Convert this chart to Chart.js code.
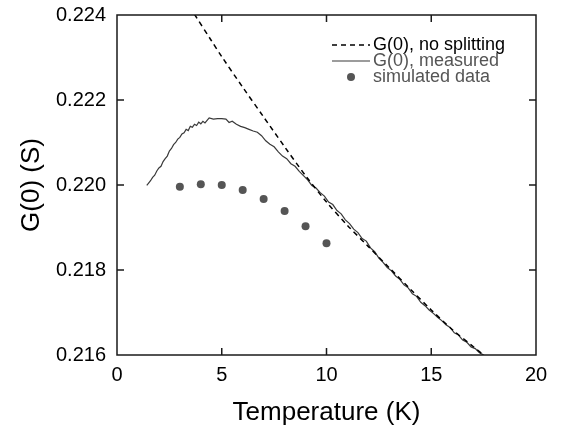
<!DOCTYPE html>
<html><head><meta charset="utf-8">
<script src="https://cdn.jsdelivr.net/npm/chart.js@4/dist/chart.umd.min.js"></script>
<style>html,body{margin:0;padding:0;background:#fff}</style>
</head><body>
<canvas id="c" width="561" height="432"></canvas>
<script>
const xTicks = [0, 5, 10, 15, 20];
const yTicks = [0.216, 0.218, 0.220, 0.222, 0.224];
const seriesLabels = ["G(0), no splitting", "G(0), measured", "simulated data"];

const noSplitT = [3.0, 3.5, 3.72, 4.5, 5.0, 6.0, 7.0, 8.0, 9.0, 10.0, 11.0, 12.0, 13.0, 14.0, 15.0, 16.0, 17.0, 17.6, 18.0];
const noSplitG = [0.22455, 0.22417, 0.22400, 0.22340, 0.22302, 0.22230, 0.22160, 0.22090, 0.22022, 0.21960, 0.21905, 0.21855, 0.21805, 0.21755, 0.21706, 0.21660, 0.21620, 0.21596, 0.21580];

const measuredT = [1.42,1.5,1.6,1.7,1.8,1.9,2.0,2.1,2.2,2.3,2.4,2.5,2.6,2.7,2.8,2.9,3.0,3.1,3.2,3.3,3.4,3.5,3.6,3.7,3.8,3.9,4.0,4.1,4.2,4.3,4.4,4.6,4.8,5.0,5.2,5.35,5.5,5.7,5.9,6.1,6.3,6.5,6.7,6.9,7.1,7.3,7.5,7.7,7.9,8.1,8.3,8.5,8.7,8.9,9.1,9.3,9.5,9.7,9.9,10.1,10.3,10.5,10.7,10.9,11.1,11.3,11.5,11.7,11.9,12.1,12.3,12.5,12.7,12.9,13.1,13.3,13.5,13.7,13.9,14.1,14.3,14.5,14.7,14.9,15.1,15.3,15.5,15.7,15.9,16.1,16.3,16.5,16.7,16.9,17.1,17.3,17.5,17.7];
const measuredG = [0.21999,0.22004,0.22010,0.22018,0.22023,0.22033,0.22040,0.22044,0.22055,0.22062,0.22068,0.22080,0.22086,0.22095,0.22100,0.22108,0.22112,0.22120,0.22123,0.22131,0.22128,0.22138,0.22136,0.22143,0.22140,0.22148,0.22144,0.22150,0.22146,0.22152,0.22158,0.22155,0.22156,0.22156,0.22155,0.22147,0.22150,0.22143,0.22138,0.22135,0.22131,0.22127,0.22124,0.22116,0.22104,0.22096,0.22090,0.22078,0.22068,0.22062,0.22050,0.22044,0.22032,0.22022,0.22012,0.21999,0.21993,0.21982,0.21974,0.21960,0.21954,0.21940,0.21932,0.21918,0.21909,0.21896,0.21888,0.21874,0.21868,0.21852,0.21843,0.21828,0.21818,0.21806,0.21798,0.21786,0.21778,0.21765,0.21758,0.21744,0.21738,0.21724,0.21716,0.21706,0.21698,0.21689,0.21681,0.21671,0.21665,0.21652,0.21647,0.21635,0.21630,0.21619,0.21615,0.21605,0.21600,0.21590];

const simT = [3, 4, 5, 6, 7, 8, 9, 10];
const simG = [0.21996, 0.22002, 0.22000, 0.21988, 0.21967, 0.21939, 0.21903, 0.21863];

const legendTextColors = ["#000000", "#555555", "#555555"];

const toXY = (xs, ys) => xs.map((x, i) => ({x: x, y: ys[i]}));
const FONT = "'Liberation Sans', Arial, Helvetica, sans-serif";

const framePlugin = {
  id: 'frame',
  afterDatasetsDraw(chart) {
    const ctx = chart.ctx, ca = chart.chartArea;
    const xs = chart.scales.x, ys = chart.scales.y;
    const tl = 7;
    ctx.save();
    ctx.strokeStyle = '#1a1a1a';
    ctx.lineWidth = 1.5;
    ctx.strokeRect(ca.left, ca.top, ca.right - ca.left, ca.bottom - ca.top);
    ctx.beginPath();
    xTicks.forEach(v => {
      const p = xs.getPixelForValue(v);
      if (p <= ca.left + 1 || p >= ca.right - 1) return;
      ctx.moveTo(p, ca.bottom); ctx.lineTo(p, ca.bottom - tl);
      ctx.moveTo(p, ca.top); ctx.lineTo(p, ca.top + tl);
    });
    yTicks.forEach(v => {
      const p = ys.getPixelForValue(v);
      if (p <= ca.top + 1 || p >= ca.bottom - 1) return;
      ctx.moveTo(ca.left, p); ctx.lineTo(ca.left + tl, p);
      ctx.moveTo(ca.right, p); ctx.lineTo(ca.right - tl, p);
    });
    ctx.stroke();
    ctx.restore();
  }
};

const legendPlugin = {
  id: 'insideLegend',
  afterDraw(chart) {
    const ctx = chart.ctx, ca = chart.chartArea;
    const lx0 = ca.right - 204, lx1 = ca.right - 166, tx = ca.right - 163;
    const rows = [ca.top + 30, ca.top + 46, ca.top + 62];
    ctx.save();
    ctx.font = "18px " + FONT;
    ctx.textBaseline = 'middle';
    ctx.textAlign = 'left';
    chart.data.datasets.forEach((ds, i) => {
      const y = rows[i];
      if (ds.showLine) {
        ctx.beginPath();
        ctx.setLineDash(ds.borderDash || []);
        ctx.strokeStyle = ds.borderColor;
        ctx.lineWidth = ds.borderWidth;
        ctx.moveTo(lx0, y); ctx.lineTo(lx1, y);
        ctx.stroke();
        ctx.setLineDash([]);
      } else {
        ctx.beginPath();
        ctx.fillStyle = ds.backgroundColor;
        ctx.arc((lx0 + lx1) / 2, y, ds.pointRadius, 0, Math.PI * 2);
        ctx.fill();
      }
      ctx.fillStyle = legendTextColors[i];
      ctx.fillText(ds.label, tx, y);
    });
    ctx.restore();
  }
};

new Chart(document.getElementById('c'), {
  type: 'scatter',
  data: {
    datasets: [
      {label: seriesLabels[0], data: toXY(noSplitT, noSplitG), showLine: true, borderColor: '#000000', borderWidth: 1.5, borderDash: [5, 4], pointRadius: 0, tension: 0.3, fill: false},
      {label: seriesLabels[1], data: toXY(measuredT, measuredG), showLine: true, borderColor: '#3a3a3a', borderWidth: 1.2, pointRadius: 0, tension: 0, fill: false},
      {label: seriesLabels[2], data: toXY(simT, simG), showLine: false, backgroundColor: '#555555', borderColor: '#555555', borderWidth: 0, pointRadius: 4}
    ]
  },
  options: {
    responsive: false,
    animation: false,
    devicePixelRatio: 1,
    layout: {padding: {left: 0, right: 25, top: 15, bottom: 0}},
    plugins: {legend: {display: false}, tooltip: {enabled: false}},
    scales: {
      x: {
        type: 'linear', min: 0, max: 20,
        afterBuildTicks: s => { s.ticks = xTicks.map(v => ({value: v})); },
        afterFit: s => { s.height = 77; s.paddingLeft = 0; s.paddingRight = 0; },
        grid: {display: false, drawTicks: false}, border: {display: false},
        ticks: {color: '#000', font: {size: 20, family: FONT}, padding: 8, maxRotation: 0},
        title: {display: true, text: 'Temperature (K)', color: '#000', font: {size: 26, family: FONT}, padding: {top: 0, bottom: 4}}
      },
      y: {
        type: 'linear', min: 0.216, max: 0.224,
        afterBuildTicks: s => { s.ticks = yTicks.map(v => ({value: v})); },
        afterFit: s => { s.width = 117; s.paddingTop = 0; s.paddingBottom = 0; },
        grid: {display: false, drawTicks: false}, border: {display: false},
        ticks: {color: '#000', font: {size: 20, family: FONT}, padding: 11, callback: v => v.toFixed(3)},
        title: {display: true, text: 'G(0) (S)', color: '#000', font: {size: 26, family: FONT}, padding: {top: 16, bottom: 0}}
      }
    }
  },
  plugins: [framePlugin, legendPlugin]
});
</script>
</body></html>
